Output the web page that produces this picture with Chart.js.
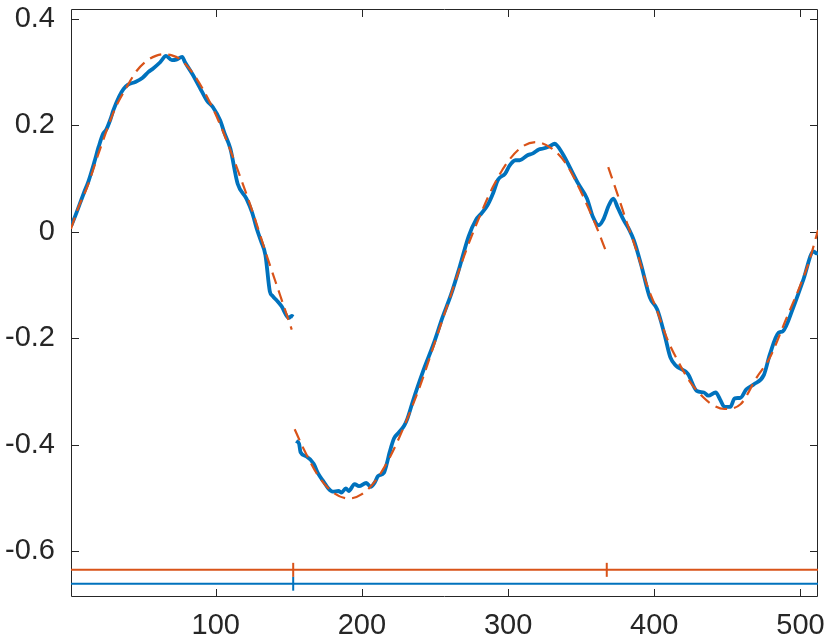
<!DOCTYPE html>
<html>
<head>
<meta charset="utf-8">
<script src="https://cdn.jsdelivr.net/npm/chart.js@4.4.1/dist/chart.umd.min.js"></script>
<style>
  body { margin: 0; background: #fff; }
  #wrap { width: 830px; height: 641px; }
</style>
</head>
<body>
<div id="wrap"><canvas id="myChart" width="830" height="641"></canvas></div>
<script>
// tick values
var xTicks = [100, 200, 300, 400, 500];
var yTicks = [-0.6, -0.4, -0.2, 0, 0.2, 0.4];

// measured signal (null = break after first change point)
var signalX = [1, 4, 7, 10, 13, 17, 20, 23, 25, 28, 30, 34, 37, 40, 45, 50, 54, 57, 62, 66,
  70, 73, 77, 79, 84, 89, 94, 98, 103, 106, 110, 115, 121, 125, 128, 131, 134, 137, 139, 142,
  145, 150, 152, 153, 154,
  155, 157, 158, 162, 167, 170, 174, 177, 180, 184, 186, 189, 191, 195, 198, 203, 206, 209, 211, 215,
  217, 219, 222, 225, 229, 231, 235, 242, 249, 255, 261, 267, 273, 278, 282, 286, 290, 293, 298, 301,
  305, 308, 313, 317, 321, 324, 328, 332, 334, 338, 342, 348, 354, 358, 362, 365, 369, 372, 375, 379,
  383, 386, 391, 397, 402, 407, 411, 415, 423, 429, 434, 437, 442, 445, 448, 452, 455, 459, 463, 468,
  475, 479, 485, 488, 495, 502, 509, 511, 512];
var signalY = [0.010, 0.030, 0.052, 0.074, 0.095, 0.131, 0.160, 0.184, 0.191, 0.211, 0.228, 0.254, 0.268, 0.276, 0.281, 0.289, 0.300, 0.306, 0.318, 0.330,
  0.322, 0.323, 0.328, 0.318, 0.296, 0.271, 0.246, 0.234, 0.209, 0.185, 0.156, 0.090, 0.062, 0.035, 0.006, -0.018, -0.044, -0.112, -0.121, -0.130,
  -0.140, -0.162, -0.158, -0.160, null,
  -0.393, -0.398, -0.414, -0.422, -0.436, -0.454, -0.470, -0.482, -0.488, -0.487, -0.490, -0.482, -0.487, -0.474, -0.478, -0.472, -0.479, -0.470, -0.459, -0.453,
  -0.436, -0.414, -0.388, -0.378, -0.364, -0.352, -0.317, -0.261, -0.211, -0.162, -0.118, -0.065, -0.009, 0.022, 0.035, 0.050, 0.074, 0.097, 0.109, 0.124,
  0.134, 0.134, 0.143, 0.147, 0.154, 0.156, 0.160, 0.165, 0.160, 0.143, 0.122, 0.090, 0.062, 0.028, 0.012, 0.022, 0.050, 0.062, 0.045, 0.022,
  0.003, -0.016, -0.062, -0.124, -0.146, -0.193, -0.236, -0.252, -0.267, -0.299, -0.302, -0.308, -0.302, -0.315, -0.329, -0.329, -0.313, -0.312, -0.296, -0.287,
  -0.269, -0.231, -0.190, -0.187, -0.143, -0.090, -0.037, -0.041, -0.040];

// piecewise fit (three segments)
var fitX = [1, 6, 12, 21, 31, 39, 46, 53, 59, 64, 70, 76, 85, 96, 105, 117, 126, 135, 144, 152, 153,
  154, 160, 170, 180, 191, 200, 210, 220, 230, 240, 250, 260, 270, 280, 290, 300, 310, 319, 330, 340, 350, 360, 367, 368,
  368.5, 375, 381, 388, 395, 402, 408.5, 415, 424, 433.5, 441, 448, 459, 470, 479, 490.5, 500, 506, 512];
var fitY = [0.005, 0.045, 0.083, 0.156, 0.230, 0.271, 0.302, 0.321, 0.330, 0.333, 0.331, 0.323, 0.295, 0.243, 0.188, 0.101, 0.031, -0.046, -0.119, -0.184, null,
  -0.371, -0.407, -0.458, -0.489, -0.501, -0.493, -0.465, -0.419, -0.358, -0.288, -0.207, -0.126, -0.045, 0.025, 0.086, 0.132, 0.160, 0.168, 0.156, 0.126, 0.074, 0.012, -0.037, null,
  0.121, 0.069, 0.019, -0.037, -0.100, -0.149, -0.199, -0.237, -0.280, -0.311, -0.327, -0.333, -0.324, -0.274, -0.237, -0.162, -0.100, -0.055, 0.003];

// change point indicator lines
var fitBreaks = [153, 367.5];
var signalBreaks = [153];
var fitLevel = -0.635;
var signalLevel = -0.661;

var blue = '#0072BD';
var orange = '#D95319';
var axisColor = '#262626';
var font = { family: 'Liberation Sans, Arial, sans-serif', size: 29 };

function pts(xs, ys) {
  return xs.map(function(x, i) { return { x: x, y: ys[i] }; });
}
function level(y) {
  return [{ x: 1, y: y }, { x: 512, y: y }];
}
function marks(xs, y) {
  return xs.map(function(x) { return { x: x, y: y }; });
}
// no extra room for overhanging tick labels
function noPad(s) {
  s.paddingTop = 0; s.paddingBottom = 0; s.paddingLeft = 0; s.paddingRight = 0;
}

var boxAxes = {
  id: 'boxAxes',
  beforeDatasetsDraw: function(chart) {
    var c = chart.ctx, a = chart.chartArea;
    var xs = chart.scales.x, ys = chart.scales.y;
    var len = 8;
    c.save();
    c.strokeStyle = axisColor;
    c.lineWidth = 1;
    c.beginPath();
    c.rect(a.left + 0.5, a.top + 0.5, a.right - a.left - 1, a.bottom - a.top - 1);
    xTicks.forEach(function(v) {
      var px = Math.round(xs.getPixelForValue(v)) + 0.5;
      c.moveTo(px, a.bottom); c.lineTo(px, a.bottom - len);
      c.moveTo(px, a.top); c.lineTo(px, a.top + len);
    });
    yTicks.forEach(function(v) {
      var py = Math.round(ys.getPixelForValue(v)) + 0.5;
      c.moveTo(a.left, py); c.lineTo(a.left + len, py);
      c.moveTo(a.right, py); c.lineTo(a.right - len, py);
    });
    c.stroke();
    c.restore();
  }
};

var ctx = document.getElementById('myChart');
var chart = new Chart(ctx, {
  type: 'line',
  data: {
    datasets: [{
      data: pts(fitX, fitY),
      borderColor: orange,
      borderWidth: 2.2,
      borderDash: [12, 7],
      pointRadius: 0,
      cubicInterpolationMode: 'monotone',
      spanGaps: false
    }, {
      data: pts(signalX, signalY),
      borderColor: blue,
      borderWidth: 3.8,
      pointRadius: 0,
      cubicInterpolationMode: 'monotone',
      spanGaps: false
    }, {
      data: level(fitLevel),
      borderColor: orange,
      borderWidth: 2,
      pointRadius: 0
    }, {
      data: level(signalLevel),
      borderColor: blue,
      borderWidth: 2,
      pointRadius: 0
    }, {
      data: marks(fitBreaks, fitLevel),
      showLine: false,
      pointStyle: 'line',
      rotation: 90,
      pointRadius: 7,
      pointBorderWidth: 2,
      pointBorderColor: orange,
      borderColor: orange
    }, {
      data: marks(signalBreaks, signalLevel),
      showLine: false,
      pointStyle: 'line',
      rotation: 90,
      pointRadius: 7,
      pointBorderWidth: 2,
      pointBorderColor: blue,
      borderColor: blue
    }]
  },
  options: {
    responsive: false,
    devicePixelRatio: 1,
    animation: false,
    layout: { padding: { top: 6, right: 12, left: 0, bottom: 0 } },
    plugins: { legend: { display: false }, tooltip: { enabled: false } },
    scales: {
      x: {
        type: 'linear',
        min: 1,
        max: 512,
        grid: { display: false, drawTicks: false },
        border: { display: false },
        afterBuildTicks: function(s) { s.ticks = xTicks.map(function(v) { return { value: v }; }); },
        afterFit: function(s) { s.height = 44; noPad(s); },
        ticks: { font: font, color: axisColor, padding: 12, maxRotation: 0, autoSkip: false }
      },
      y: {
        type: 'linear',
        min: -0.686,
        max: 0.418,
        grid: { display: false, drawTicks: false },
        border: { display: false },
        afterBuildTicks: function(s) { s.ticks = yTicks.map(function(v) { return { value: v }; }); },
        afterFit: function(s) { s.width = 71; noPad(s); },
        ticks: {
          font: font, color: axisColor, padding: 16,
          callback: function(v) { return String(+v.toFixed(1)); }
        }
      }
    }
  },
  plugins: [boxAxes]
});
</script>
</body>
</html>
